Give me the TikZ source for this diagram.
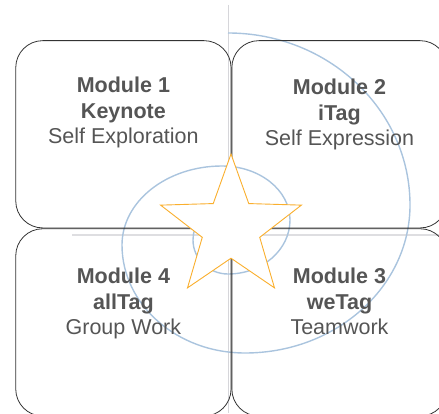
\documentclass[tikz,border=0pt]{standalone}
\usepackage{fontspec}
\setmainfont{Liberation Sans}
\usetikzlibrary{positioning}
\usetikzlibrary{shapes.geometric}
\definecolor{txtgray}{RGB}{85,85,85}
\definecolor{spiralblue}{RGB}{170,196,222}
\definecolor{axisgray}{RGB}{214,214,218}
\definecolor{starorange}{RGB}{250,175,45}
\tikzset{modbox/.style={draw=black!80, line width=0.8pt, rounded corners=27pt, minimum width=215.3pt, minimum height=187.3pt, inner sep=0pt}}
\tikzset{modtext/.style={align=center, inner sep=0pt, text=txtgray, font=\fontsize{21.5}{25.5}\selectfont}}
\tikzset{axis/.style={axisgray, line width=1.6pt}}

\begin{document}
\begin{tikzpicture}[x=1pt,y=1pt,node distance=0pt]
\useasboundingbox (0,0) rectangle (439,413);
\clip (0,0) rectangle (439,413);

\coordinate (vtop) at (228.5,408);
\coordinate (vbot) at (228.5,0);
\coordinate (hleft) at (72,178);
\coordinate (hright) at (439,178);
\draw[axis] (vtop) -- (vbot);
\draw[axis, axisgray!80] (hleft) -- (hright);

\draw[spiralblue, line width=1.4pt] (228,380)
  arc[start angle=90, end angle=0, x radius=182pt, y radius=172pt]
  arc[start angle=0, end angle=-90, x radius=165pt, y radius=148pt]
  arc[start angle=-90, end angle=-180, x radius=123pt, y radius=108pt]
  arc[start angle=180, end angle=90, x radius=100pt, y radius=79pt]
  arc[start angle=90, end angle=0, x radius=68pt, y radius=54pt]
  arc[start angle=0, end angle=-90, x radius=62pt, y radius=54pt]
  arc[start angle=-90, end angle=-180, x radius=35pt, y radius=34pt]
  arc[start angle=180, end angle=90, x radius=20pt, y radius=27pt];

\node (m1) [modbox] at (123.4,278.7) {};
\node (m2) [modbox, right=of m1] {};
\node (m4) [modbox, below=of m1] {};
\node (m3) [modbox, right=of m4] {};

\node (t1) [modtext, below=36.9pt of m1.north] {\textbf{Module 1}\\\textbf{Keynote}\\Self Exploration};
\node (t2) [modtext, below=38.9pt of m2.north] {\textbf{Module 2}\\\textbf{iTag}\\Self Expression};
\node (t4) [modtext, below=39.6pt of m4.north] {\textbf{Module 4}\\\textbf{allTag}\\Group Work};
\node (t3) [modtext, below=39.6pt of m3.north] {\textbf{Module 3}\\\textbf{weTag}\\Teamwork};

\node (star) [star, star points=5, star point ratio=2.45, minimum size=148pt, inner sep=0pt, draw=starorange, line width=0.9pt, fill=white] at (231,185) {};
\end{tikzpicture}
\end{document}
